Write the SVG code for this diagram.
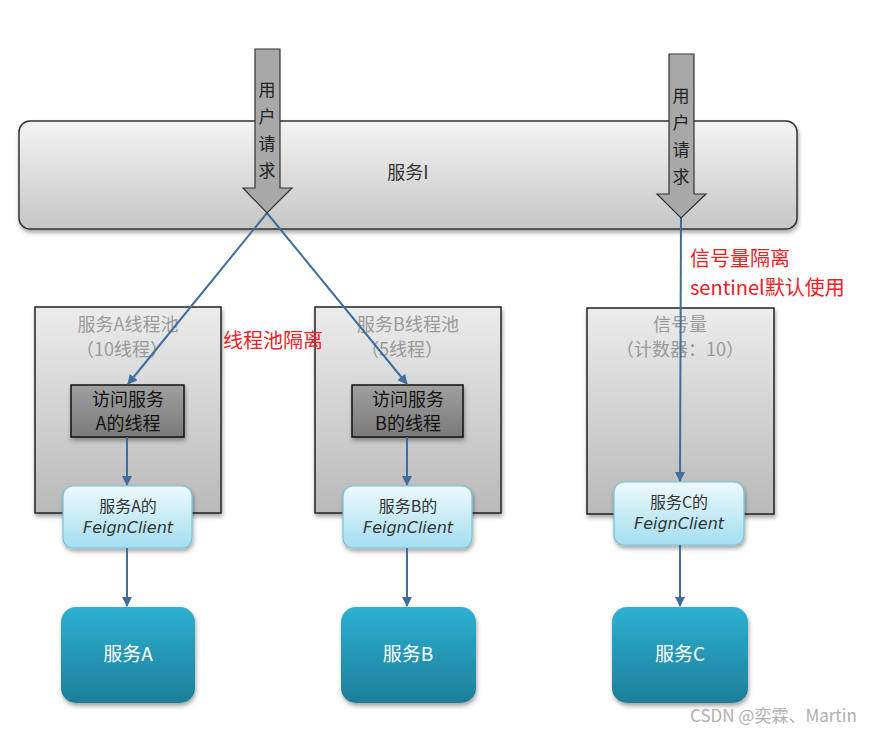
<svg xmlns="http://www.w3.org/2000/svg" width="890" height="733" viewBox="0 0 890 733">
<defs>
<linearGradient id="gBar" x1="0" y1="0" x2="0" y2="1"><stop offset="0" stop-color="#f4f4f4"/><stop offset="1" stop-color="#c6c6c6"/></linearGradient>
<linearGradient id="gPool" x1="0" y1="0" x2="0" y2="1"><stop offset="0" stop-color="#ececec"/><stop offset="1" stop-color="#b9b9b9"/></linearGradient>
<linearGradient id="gInner" x1="0" y1="0" x2="0" y2="1"><stop offset="0" stop-color="#a0a0a0"/><stop offset="1" stop-color="#7a7a7a"/></linearGradient>
<linearGradient id="gFeign" x1="0" y1="0" x2="0" y2="1"><stop offset="0" stop-color="#eefafd"/><stop offset="1" stop-color="#a3def0"/></linearGradient>
<linearGradient id="gSvc" x1="0" y1="0" x2="0" y2="1"><stop offset="0" stop-color="#2eb0d2"/><stop offset="1" stop-color="#1d7e99"/></linearGradient>
<filter id="sh" x="-10%" y="-10%" width="125%" height="130%"><feDropShadow dx="1" dy="3" stdDeviation="2" flood-color="#000" flood-opacity="0.35"/></filter>
<marker id="ah" viewBox="0 0 10 10" refX="9" refY="5" markerWidth="5" markerHeight="5" orient="auto"><path d="M0,0 L10,5 L0,10 z" fill="#3f6e9c"/></marker>
<style>
.cjk{font-family:"Noto Sans CJK SC","Liberation Sans",sans-serif}
.pool{fill:url(#gPool);stroke:#222;stroke-width:1.5}
.pt{font-size:18px;fill:#9a9a9a;text-anchor:middle}
.inner{fill:url(#gInner);stroke:#111;stroke-width:1.5}
.it{font-size:18px;fill:#111;text-anchor:middle}
.feign{fill:url(#gFeign);stroke:#72c3da;stroke-width:1.2}
.ft{font-size:16px;fill:#333;text-anchor:middle}
.fc{font-family:"DejaVu Sans",sans-serif;font-style:italic}
.svc{fill:url(#gSvc);stroke:none}
.st{font-size:19px;fill:#fff;text-anchor:middle}
.conn{stroke:#3f6e9c;stroke-width:2;fill:none}
.red{font-size:20px;fill:#ee1c25}
.arrow{fill:#a8a8a8;stroke:#333;stroke-width:1.2}
.at{font-size:17px;fill:#222;text-anchor:middle}
</style>
</defs>
<rect width="890" height="733" fill="#fff"/>

<g id="serviceI">
<rect x="19" y="121" width="778" height="108" rx="11" fill="url(#gBar)" stroke="#333" stroke-width="1.5" filter="url(#sh)"/>
<text class="cjk" x="408" y="179" font-size="18" fill="#333" text-anchor="middle">服务I</text>
</g>

<g id="poolA">
<rect class="pool" x="35" y="307" width="186" height="206" filter="url(#sh)"/>
<text class="cjk pt" x="128" y="331">服务A线程池</text>
<text class="cjk pt" x="122" y="356">（10线程）</text>
</g>
<g id="poolB">
<rect class="pool" x="315" y="307" width="186" height="206" filter="url(#sh)"/>
<text class="cjk pt" x="408" y="331">服务B线程池</text>
<text class="cjk pt" x="402" y="356">（5线程）</text>
</g>
<g id="semaphoreC">
<rect class="pool" x="587" y="308" width="187" height="206" filter="url(#sh)"/>
<text class="cjk pt" x="680" y="331">信号量</text>
<text class="cjk pt" x="680" y="356">（计数器：10）</text>
</g>

<g id="innerA">
<rect class="inner" x="71" y="385" width="113" height="52" filter="url(#sh)"/>
<text class="cjk it" x="128" y="406">访问服务</text>
<text class="cjk it" x="128" y="430">A的线程</text>
</g>
<g id="innerB">
<rect class="inner" x="352" y="385" width="111" height="52" filter="url(#sh)"/>
<text class="cjk it" x="408" y="406">访问服务</text>
<text class="cjk it" x="408" y="430">B的线程</text>
</g>

<g id="feignA">
<rect class="feign" x="63" y="486" width="129" height="62" rx="10" filter="url(#sh)"/>
<text class="cjk ft" x="128" y="512">服务A的</text>
<text class="ft fc" x="128" y="533">FeignClient</text>
</g>
<g id="feignB">
<rect class="feign" x="343" y="486" width="129" height="62" rx="10" filter="url(#sh)"/>
<text class="cjk ft" x="408" y="512">服务B的</text>
<text class="ft fc" x="408" y="533">FeignClient</text>
</g>
<g id="feignC">
<rect class="feign" x="614" y="482" width="130" height="63" rx="10" filter="url(#sh)"/>
<text class="cjk ft" x="679" y="508">服务C的</text>
<text class="ft fc" x="679" y="529">FeignClient</text>
</g>

<g id="svcA">
<rect class="svc" x="61" y="607" width="134" height="96" rx="15" filter="url(#sh)"/>
<text class="cjk st" x="128" y="661">服务A</text>
</g>
<g id="svcB">
<rect class="svc" x="341" y="607" width="135" height="96" rx="15" filter="url(#sh)"/>
<text class="cjk st" x="408" y="661">服务B</text>
</g>
<g id="svcC">
<rect class="svc" x="612" y="607" width="136" height="96" rx="15" filter="url(#sh)"/>
<text class="cjk st" x="680" y="661">服务C</text>
</g>

<g id="connectors">
<line class="conn" x1="267" y1="213" x2="128" y2="384" marker-end="url(#ah)"/>
<line class="conn" x1="267" y1="213" x2="407" y2="384" marker-end="url(#ah)"/>
<line class="conn" x1="681" y1="218" x2="680" y2="481" marker-end="url(#ah)"/>
<line class="conn" x1="127" y1="437" x2="127" y2="485" marker-end="url(#ah)"/>
<line class="conn" x1="407" y1="437" x2="407" y2="485" marker-end="url(#ah)"/>
<line class="conn" x1="127" y1="548" x2="127" y2="606" marker-end="url(#ah)"/>
<line class="conn" x1="407" y1="548" x2="407" y2="606" marker-end="url(#ah)"/>
<line class="conn" x1="680" y1="545" x2="680" y2="606" marker-end="url(#ah)"/>
</g>

<g id="requestArrow1">
<path class="arrow" d="M255,49 H280 V188 H292 L267,213 L243,188 H255 Z"/>
<text class="cjk at" x="267" y="96">用</text>
<text class="cjk at" x="267" y="123">户</text>
<text class="cjk at" x="267" y="150">请</text>
<text class="cjk at" x="267" y="177">求</text>
</g>
<g id="requestArrow2">
<path class="arrow" d="M669,54 H694 V194 H706 L681,218 L657,194 H669 Z"/>
<text class="cjk at" x="681" y="102">用</text>
<text class="cjk at" x="681" y="129">户</text>
<text class="cjk at" x="681" y="156">请</text>
<text class="cjk at" x="681" y="183">求</text>
</g>

<g id="labels">
<text class="cjk red" x="223" y="348" font-size="21">线程池隔离</text>
<text class="cjk red" x="690" y="266">信号量隔离</text>
<text class="cjk red" x="690" y="295">sentinel默认使用</text>
<text class="cjk" x="690" y="722" font-size="17" fill="#b0b0b0">CSDN @奕霖、Martin</text>
</g>
</svg>
